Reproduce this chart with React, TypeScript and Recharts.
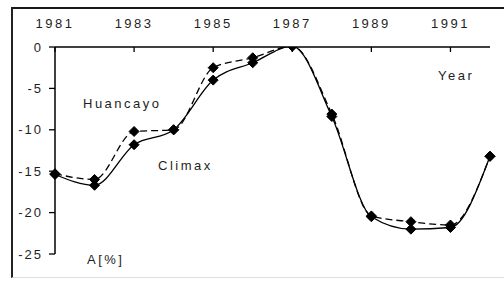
import { LineChart, Line, XAxis, YAxis } from 'recharts';

const years = [1981, 1982, 1983, 1984, 1985, 1986, 1987, 1988, 1989, 1990, 1991, 1992];
const huancayo = [-15.3, -16.0, -10.2, -10.0, -2.5, -1.3, 0.1, -8.1, -20.4, -21.1, -21.5, -13.2];
const climax = [-15.4, -16.7, -11.8, -10.0, -4.0, -1.9, 0.1, -8.4, -20.5, -22.0, -21.8, -13.2];
const xTicks = [1981, 1983, 1985, 1987, 1989, 1991];
const yTicks = [0, -5, -10, -15, -20, -25];

const data = years.map((year, i) => ({ year, huancayo: huancayo[i], climax: climax[i] }));

const FONT = 'Arial, "Liberation Sans", sans-serif';
const INK = '#1e1e1e';

const X_TICK_SIZE = 5;
const X_TICK_MARGIN = 13;

function Diamond(props: any) {
  const { cx, cy } = props;
  if (cx == null || cy == null) return null;
  const r = 5;
  return (
    <polygon
      points={`${cx},${cy - r} ${cx + r},${cy} ${cx},${cy + r} ${cx - r},${cy}`}
      fill="#000"
      stroke="#000"
      strokeWidth={1}
    />
  );
}

function TopTick(props: any) {
  const { x, y, payload } = props;
  const axisY = y + X_TICK_SIZE + X_TICK_MARGIN;
  return (
    <g>
      <text
        x={x}
        y={y - 1}
        textAnchor="middle"
        fontFamily={FONT}
        fontSize={13}
        letterSpacing={2.5}
        fill={INK}
      >
        {payload.value}
      </text>
      <line x1={x} y1={axisY} x2={x} y2={axisY + 5} stroke="#000" strokeWidth={1.3} />
    </g>
  );
}

const labelStyle = {
  fontFamily: FONT,
  fontSize: 13,
  letterSpacing: 2.5,
  fill: INK,
};

export default function App() {
  return (
    <div style={{ position: 'absolute', left: 0, top: 0, width: 504, height: 282, background: '#fff' }}>
      <div
        style={{
          position: 'absolute',
          left: 11,
          top: 7,
          width: 600,
          height: 271,
          boxSizing: 'border-box',
          borderTop: '2px solid #1a1a1a',
          borderLeft: '2px solid #222',
          borderBottom: '1px solid #ddd',
        }}
      />
      <div style={{ position: 'absolute', left: 0, top: 0 }}>
        <LineChart
          width={504}
          height={282}
          data={data}
          margin={{ top: 17, right: 14, bottom: 28, left: 15 }}
        >
          <XAxis
            dataKey="year"
            type="number"
            orientation="top"
            domain={[1981, 1992]}
            ticks={xTicks}
            height={30}
            tickSize={X_TICK_SIZE}
            tickMargin={X_TICK_MARGIN}
            tickLine={false}
            axisLine={{ stroke: '#000', strokeWidth: 1.5 }}
            tick={<TopTick />}
          />
          <YAxis
            type="number"
            domain={[-25, 0]}
            allowDataOverflow
            ticks={yTicks}
            width={40}
            tickSize={6}
            tickMargin={6}
            tickLine={{ stroke: '#000', strokeWidth: 1.3 }}
            axisLine={{ stroke: '#000', strokeWidth: 1.5 }}
            tick={{ fontFamily: FONT, fontSize: 13, letterSpacing: 2, fill: INK }}
          />
          <Line
            type="monotone"
            dataKey="climax"
            stroke="#000"
            strokeWidth={1.3}
            dot={<Diamond />}
            isAnimationActive={false}
          />
          <Line
            type="monotone"
            dataKey="huancayo"
            stroke="#000"
            strokeWidth={1.3}
            strokeDasharray="7 4"
            dot={<Diamond />}
            isAnimationActive={false}
          />
          <text x={83} y={108} style={labelStyle}>Huancayo</text>
          <text x={158} y={170} style={labelStyle}>Climax</text>
          <text x={438} y={80} style={labelStyle}>Year</text>
          <text x={87} y={264} style={labelStyle}>A[%]</text>
        </LineChart>
      </div>
    </div>
  );
}
